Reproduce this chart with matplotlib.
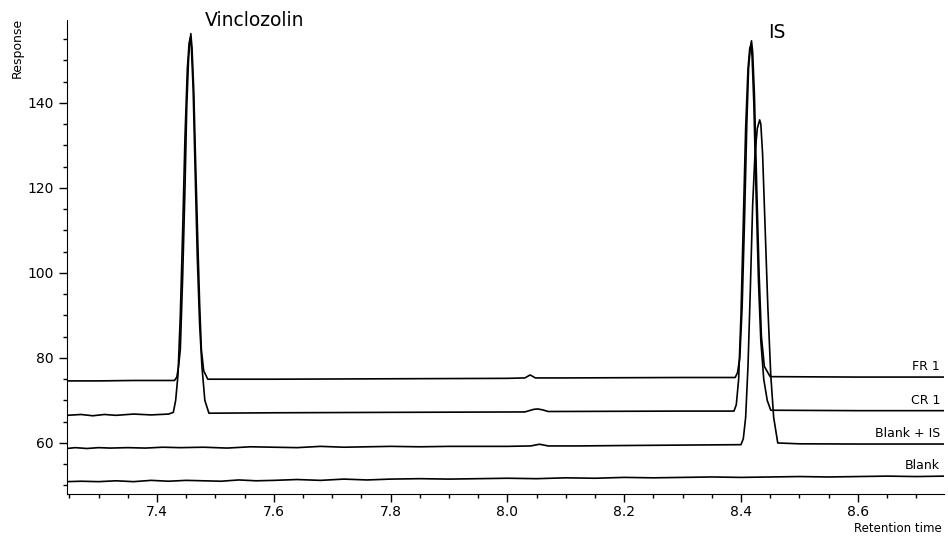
import matplotlib
matplotlib.use("Agg")
import matplotlib.pyplot as plt
from matplotlib.ticker import MultipleLocator

#--FR 1 trace (retention time, response)
fr1_t = [7.246, 7.30, 7.36, 7.43, 7.434, 7.437, 7.440, 7.444, 7.448, 7.451, 7.454, 7.456,
         7.458, 7.460, 7.463, 7.466, 7.470, 7.473, 7.476, 7.480, 7.487, 7.60, 7.80, 8.00,
         8.030, 8.039, 8.048, 8.10, 8.30, 8.390, 8.394, 8.398, 8.402, 8.406, 8.410, 8.413,
         8.416, 8.418, 8.420, 8.423, 8.427, 8.431, 8.435, 8.440, 8.450, 8.60, 8.748]
fr1_r = [74.6, 74.6, 74.7, 74.7, 75.5, 78, 82, 99, 120, 139, 150, 154,
         156.3, 153, 143, 127, 107, 93, 82, 77, 75.0, 75.0, 75.1, 75.2,
         75.3, 76.0, 75.3, 75.3, 75.4, 75.4, 76.5, 80, 92, 112, 135, 148,
         153, 154.6, 152, 142, 120, 100, 85, 78, 75.6, 75.5, 75.5]
#--CR 1 trace
cr1_t = [7.246, 7.27, 7.29, 7.31, 7.33, 7.36, 7.39, 7.42, 7.428, 7.432, 7.436, 7.440,
         7.444, 7.448, 7.452, 7.455, 7.457, 7.459, 7.462, 7.465, 7.469, 7.473, 7.477, 7.482,
         7.489, 7.60, 7.80, 8.03, 8.045, 8.052, 8.06, 8.07, 8.30, 8.388, 8.392, 8.396,
         8.400, 8.404, 8.408, 8.412, 8.415, 8.417, 8.419, 8.422, 8.426, 8.430, 8.434, 8.439,
         8.445, 8.451, 8.60, 8.748]
cr1_r = [66.5, 66.7, 66.4, 66.7, 66.5, 66.8, 66.6, 66.8, 67.2, 70, 76, 90,
         110, 132, 148, 154, 155.3, 153, 143, 126, 104, 88, 78, 70,
         67.0, 67.1, 67.2, 67.3, 67.9, 68.0, 67.8, 67.4, 67.5, 67.5, 69, 75,
         90, 112, 134, 148, 152.8, 153.5, 151, 140, 118, 98, 84, 75,
         70, 67.7, 67.6, 67.6]
#--Blank + IS trace
bis_t = [7.246, 7.26, 7.28, 7.30, 7.32, 7.35, 7.38, 7.41, 7.44, 7.48, 7.52, 7.56,
         7.60, 7.64, 7.68, 7.72, 7.76, 7.80, 7.85, 7.90, 7.95, 8.00, 8.04, 8.055,
         8.07, 8.12, 8.20, 8.30, 8.40, 8.404, 8.408, 8.412, 8.416, 8.420, 8.424, 8.428,
         8.432, 8.434, 8.437, 8.441, 8.446, 8.451, 8.456, 8.463, 8.50, 8.60, 8.748]
bis_r = [58.7, 58.9, 58.7, 58.9, 58.8, 58.9, 58.8, 59.0, 58.9, 59.0, 58.8, 59.1,
         59.0, 58.9, 59.2, 59.0, 59.1, 59.2, 59.1, 59.2, 59.2, 59.2, 59.3, 59.7,
         59.3, 59.3, 59.4, 59.5, 59.6, 61, 66, 78, 96, 116, 128, 134,
         136, 135, 128, 112, 92, 76, 66, 60.0, 59.8, 59.75, 59.75]
#--Blank trace
blk_t = [7.246, 7.27, 7.30, 7.33, 7.36, 7.39, 7.42, 7.45, 7.48, 7.51, 7.54, 7.57,
         7.60, 7.64, 7.68, 7.72, 7.76, 7.80, 7.85, 7.90, 7.95, 8.00, 8.05, 8.10,
         8.15, 8.20, 8.25, 8.30, 8.35, 8.40, 8.45, 8.50, 8.55, 8.60, 8.65, 8.70, 8.748]
blk_r = [50.9, 51.0, 50.9, 51.1, 50.9, 51.2, 51.0, 51.2, 51.1, 51.0, 51.3, 51.1,
         51.2, 51.4, 51.2, 51.5, 51.3, 51.5, 51.6, 51.5, 51.6, 51.7, 51.6, 51.8,
         51.7, 51.9, 51.8, 51.9, 52.0, 51.9, 52.0, 52.1, 52.0, 52.1, 52.2, 52.1, 52.2]

traces = [(fr1_t, fr1_r, 'FR 1'), (cr1_t, cr1_r, 'CR 1'),
          (bis_t, bis_r, 'Blank + IS'), (blk_t, blk_r, 'Blank')]

fig = plt.figure(figsize=(9.48, 5.36), dpi=100)
ax = fig.add_axes([0.0707, 0.0784, 0.9253, 0.8843])

for t, r, name in traces:
    ax.plot(t, r, color='black', lw=1.2)
    ax.text(8.741, r[-1] + 0.9, name, ha='right', va='bottom', fontsize=9)

ax.set_xlim(7.246, 8.748)
ax.set_ylim(48.0, 159.5)
ax.xaxis.set_minor_locator(MultipleLocator(0.05))
ax.yaxis.set_minor_locator(MultipleLocator(5))
ax.set_xticks([7.4, 7.6, 7.8, 8.0, 8.2, 8.4, 8.6])
ax.set_xticklabels(['7.4', '7.6', '7.8', '8.0', '8.2', '8.4', '8.6'])
ax.set_yticks([60, 80, 100, 120, 140])
ax.tick_params(which='major', length=6, width=1, labelsize=10, direction='out')
ax.tick_params(axis='x', which='major', pad=2)
ax.tick_params(which='minor', length=3, width=1, direction='out')
for s in ['top', 'right']:
    ax.spines[s].set_visible(False)

#--peak labels
ax.text(7.482, 159.3, 'Vinclozolin', fontsize=13.5, va='center', clip_on=False)
ax.text(8.446, 156.5, 'IS', fontsize=13.5, va='center', clip_on=False)

fig.text(17/948, 1-48/536, 'Response', rotation=90, ha='center', va='center', fontsize=9)
fig.text(942/948, 1-529/536, 'Retention time', ha='right', va='center', fontsize=8.5)

fig.savefig('out.png', dpi=100)
